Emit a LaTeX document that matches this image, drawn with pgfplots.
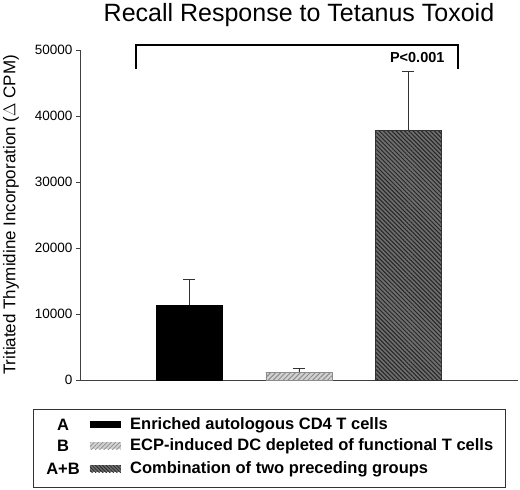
\documentclass[border=0pt]{standalone}
\usepackage{pgfplots}
\pgfplotsset{compat=1.18}
\usepackage{fontspec}
\setmainfont{Liberation Sans}
\usetikzlibrary{patterns.meta}

\definecolor{barB}{HTML}{D2D2D2}
\definecolor{stripeB}{HTML}{8C8C8C}
\definecolor{barC}{HTML}{6E6E6E}
\definecolor{axisgray}{HTML}{404040}

\begin{document}
\begin{tikzpicture}
\begin{axis}[
    scale only axis,
    width=438pt, height=330pt,
    xmin=0, xmax=4,
    ymin=0, ymax=50000,
    axis lines*=left,
    axis line style={axisgray, line width=0.8pt},
    xtick=\empty,
    ytick={0,10000,20000,30000,40000,50000},
    tick align=outside,
    major tick length=4pt,
    tick style={axisgray, line width=0.8pt},
    scaled y ticks=false,
    /pgf/number format/1000 sep={},
    /pgf/number format/assume math mode=true,
    tick label style={font=\fontsize{13.5}{15}\selectfont},
    title={Recall Response to Tetanus Toxoid},
    title style={at={(0.5,1)}, anchor=base, yshift=23pt, inner sep=0pt, font=\fontsize{25}{29}\selectfont},
    ylabel={Tritiated Thymidine Incorporation ($\Delta$ CPM)},
    every axis y label/.style={at={(axis description cs:-0.1575,0.5)}, rotate=90, anchor=center, font=\fontsize{17}{19}\selectfont},
    ybar,
    bar width=66pt,
    clip=false,
    error bars/y dir=plus,
    error bars/y explicit,
    error bars/error mark options={rotate=90, mark size=6pt, line width=0.6pt, black!80},
    error bars/error bar style={line width=0.6pt, black!80},
]
% A: enriched autologous CD4 T cells
\addplot[bar shift=0pt, fill=black, draw=black]
    coordinates {(1,11400) +- (0,3900)};
% B: ECP-induced DC
\addplot[bar shift=0pt, fill=barB, draw=stripeB,
    postaction={pattern={Lines[angle=45,distance=3.5pt,line width=1pt]}, pattern color=stripeB}]
    coordinates {(2,1200) +- (0,600)};
% A+B
\addplot[bar shift=0pt, fill=barC, draw=black!80,
    postaction={pattern={Lines[angle=-45,distance=3pt,line width=1pt]}, pattern color=black!85}]
    coordinates {(3,37800) +- (0,9000)};

\draw[line width=2pt] (axis cs:0.51,47100) -- (axis cs:0.51,50760)
    -- (axis cs:3.45,50760) -- (axis cs:3.45,47100);
\node[font=\bfseries\fontsize{14.5}{16}\selectfont] at (axis cs:3.08,48800) {P<0.001};
\end{axis}

% legend box
\begin{scope}[shift={(current axis.south west)}]
\draw[line width=0.8pt, black!80] (-47pt,-29pt) rectangle (425pt,-107pt);
\foreach \yy/\lab/\txt in {-45/A/Enriched autologous CD4 T cells,
    -66/B/ECP-induced DC depleted of functional T cells,
    -89/A+B/Combination of two preceding groups}{
  \node[font=\bfseries\fontsize{16.5}{18}\selectfont] at (-17pt,\yy pt) {\lab};
  \node[font=\bfseries\fontsize{16.5}{18}\selectfont, anchor=west, inner sep=0pt] at (50pt,\yy pt) {\txt};
}
\fill[black] (10pt,-48.5pt) rectangle (41pt,-41.5pt);
\fill[barB] (10pt,-69.5pt) rectangle (41pt,-62.5pt);
\fill[pattern={Lines[angle=45,distance=3pt,line width=0.8pt]}, pattern color=stripeB] (10pt,-69.5pt) rectangle (41pt,-62.5pt);
\fill[barC] (10pt,-92.5pt) rectangle (41pt,-85.5pt);
\fill[pattern={Lines[angle=-45,distance=2.5pt,line width=0.8pt]}, pattern color=black!85] (10pt,-92.5pt) rectangle (41pt,-85.5pt);
\end{scope}

\pgfresetboundingbox
\path ([shift={(-80pt,-110pt)}]current axis.south west) rectangle ++(520pt,490pt);
\end{tikzpicture}
\end{document}
